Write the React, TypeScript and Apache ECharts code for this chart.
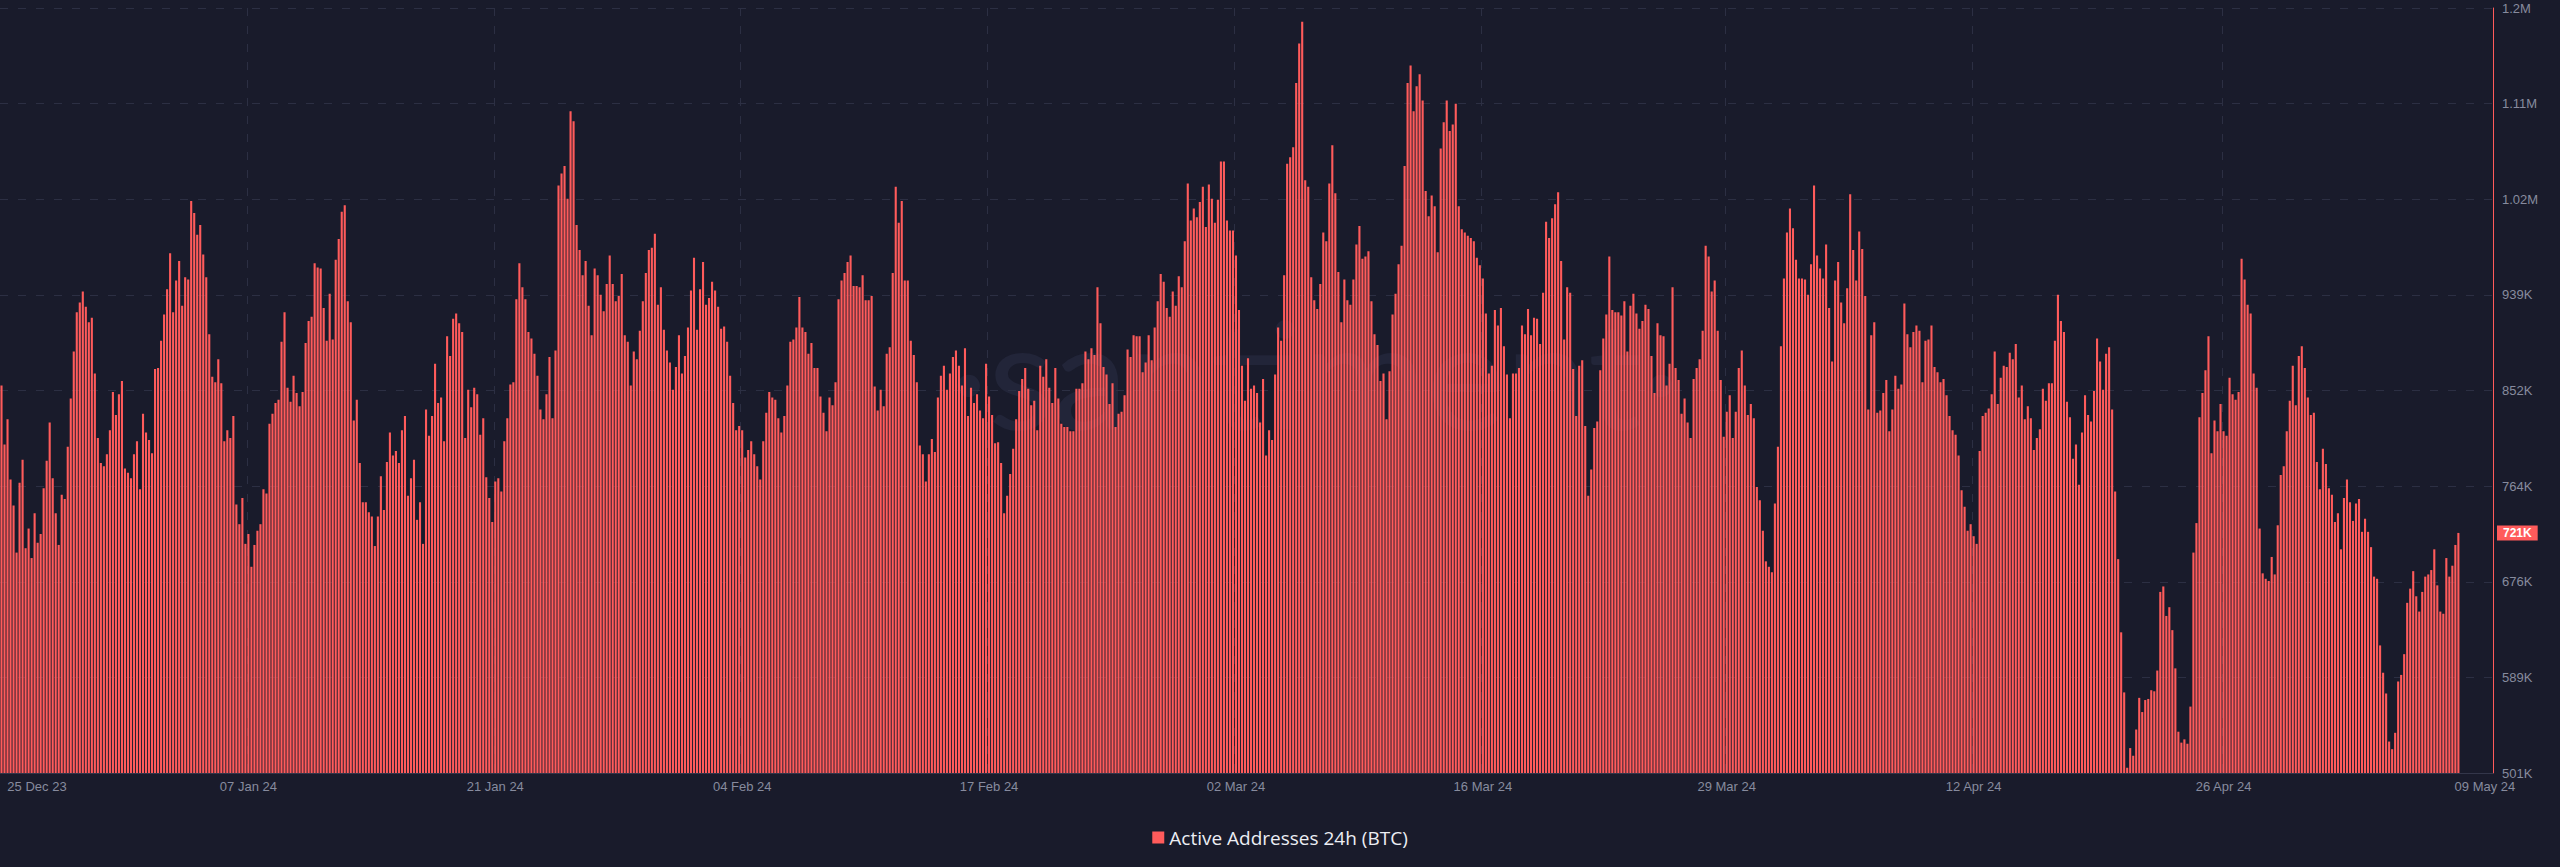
import React, { useEffect, useRef } from 'react';
import * as echarts from 'echarts';

// Active Addresses 24h (BTC), 4-hour samples, values in thousands
const aaDec25toJan07 = [
  856, 802, 825, 770, 746, 703, 767, 788, 707, 725,
  698, 739, 712, 720, 762, 787, 822, 771, 739, 710,
  756, 752, 800, 844, 887, 923, 932, 942, 928, 914,
  918, 867, 808, 785, 782, 793, 815, 850, 829, 848,
  860, 780, 776, 771, 793, 805, 761, 830, 813, 806,
  794, 871, 872, 897, 921, 944, 977, 923, 952,
  970, 929, 955, 953, 1025, 1014, 994, 1003, 976, 955,
  903, 864, 859, 880, 858, 805, 815, 808, 828, 747,
  729, 753, 711, 720, 690, 710, 723, 729, 761, 757,
  821, 830, 840, 843, 896, 923, 854, 841, 865, 849,
  837, 850, 895, 915, 919, 968, 964, 963, 927, 897,
  940, 898, 971, 990, 1015, 1021, 933, 914, 824, 843,
  785, 749, 749, 740, 736, 709, 736, 773, 742, 786,
  813, 792, 796, 785, 815, 828, 755,
];
const aaJan07toFeb08 = [
  771, 788, 733, 749, 711, 834, 810, 828, 876,
  840, 845, 805, 901, 883, 917, 922, 913, 905, 808,
  852, 836, 854, 848, 811, 826, 772, 753, 731, 768,
  771, 759, 805, 826, 857, 859, 935, 968, 946, 935,
  905, 899, 885, 865, 834, 825, 848, 882, 826, 888,
  1039, 1050, 1057, 1027, 1107, 1098, 1003, 980, 957, 970,
  929, 902, 963, 957, 939, 924, 949, 975, 949, 933,
  938, 958, 902, 896, 856, 887, 880, 906, 933, 959,
  980, 982, 995, 930, 946, 907, 888, 877, 852, 873,
  902, 867, 883, 909, 943, 973, 907, 944, 969, 930,
  936, 951, 943, 928, 908, 910, 896, 865, 840, 815,
  819, 815, 790, 797, 805, 793, 782, 770, 805, 831,
  850, 845, 843, 826, 813, 828, 856, 896, 898, 909,
  937, 909, 905, 885, 895, 872, 872,
];
const aaFeb08toMar03 = [
  846, 831, 814, 845, 838, 859, 935, 952, 959,
  969, 975, 947, 947, 946, 957, 934, 934, 938, 855,
  833, 852, 837, 885, 891, 959, 1038, 1005, 1025, 952,
  952, 897, 884, 859, 801, 793, 768, 793, 807, 795,
  845, 865, 874, 852, 867, 882, 888, 874, 856, 890,
  828, 854, 840, 848, 833, 826, 876, 846, 829, 803,
  804, 785, 739, 755, 775, 798, 825, 851, 862, 872,
  853, 838, 842, 815, 874, 864, 880, 854, 840, 872,
  844, 821, 818, 818, 814, 814, 853, 853, 858, 887,
  880, 890, 884, 946, 913, 873, 866, 839, 858, 818,
  830, 832, 847, 889, 882, 902, 901, 901, 868, 877,
  902, 879, 909, 933, 958, 951, 927, 919, 942, 929,
  956, 946, 988, 1041, 1007, 1018, 1010, 1024, 1038, 1001,
  1040, 1027, 1005, 1026, 1061, 1061, 1007,
];
const aaMar03toMar26 = [
  998, 998, 975, 925, 874, 842, 881, 853, 856, 849,
  822, 862, 792, 815, 806, 866, 909, 897, 957, 1059,
  1065, 1074, 1133, 1169, 1189, 1044, 1038, 955, 934, 926,
  949, 996, 988, 1041, 1076, 1032, 960, 914, 953, 934,
  930, 953, 985, 1002, 972, 974, 979, 933, 903, 893,
  860, 867, 825, 869, 921, 940, 967, 984, 1057, 1133,
  1149, 1107, 1130, 1141, 1117, 1034, 1011, 1030, 1020, 978,
  1073, 1097, 1117, 1089, 1095, 1114, 1020, 999, 996, 993,
  991, 988, 973, 966, 954, 922, 867, 874, 925,
  911, 927, 892, 866, 826, 867, 867, 872, 911, 903,
  926, 902, 918, 917, 894, 941, 1006, 991, 1009, 1022,
  1033, 970, 898, 946, 941, 871, 828, 874, 879, 819,
  755, 779, 817, 823, 870, 899, 921, 974, 925, 923,
  923, 920, 933, 887, 929, 940, 922,
];
const aaMar26toApr17 = [
  908, 915, 930, 926, 883, 849, 913, 902, 901, 856,
  876, 946, 872, 861, 830, 844, 822, 808, 862, 872,
  880, 906, 984, 974, 942, 952, 906, 861, 809, 832,
  847, 808, 832, 872, 888, 856, 829, 839, 826, 763,
  751, 723, 695, 690, 685, 748, 800, 892, 954, 996,
  1018, 1000, 971, 954, 954, 953, 939, 967, 1039, 975,
  963, 954, 985, 927, 878, 952, 969, 932, 913, 945,
  1031, 980, 952, 997, 981, 938, 834, 902, 914, 831,
  833, 849, 861, 814, 834, 865, 853, 857, 931, 903,
  891, 905, 911, 906, 859, 897, 898, 911, 873, 868,
  859, 862, 847, 828, 815, 811, 792, 760, 745, 723,
  729, 718, 711, 796, 828, 831, 835, 848, 887, 839,
  863, 874, 873, 886, 880, 894, 845, 856, 825, 837,
  826, 797, 808, 816, 853, 842, 858,
];
const aaApr17toMay09 = [
  858, 897, 939, 915, 905, 841, 827, 789, 802,
  765, 813, 847, 829, 823, 851, 899, 878, 852, 885,
  891, 834, 759, 697, 630, 575, 506, 524, 517, 541,
  570, 557, 568, 569, 577, 576, 595, 667, 672, 645,
  653, 632, 597, 539, 529, 532, 528, 562, 703, 730,
  827, 849, 870, 901, 794, 824, 814, 839, 814, 810,
  863, 848, 843, 850, 972, 953, 930, 922, 867, 854,
  725, 684, 679, 677, 699, 683, 728, 774, 782, 814,
  842, 874, 838, 883, 892, 872, 845, 829, 831, 786,
  761, 798, 784, 762, 756, 731, 739, 706, 753, 770,
  749, 732, 748, 752, 722, 734, 722, 708, 681, 679,
  618, 593, 574, 530, 523, 538, 585, 591, 610, 657,
  670, 686, 663, 649, 667, 681, 683, 687, 706, 673,
  649, 647, 698, 681, 691, 710, 721,
];

const activeAddressesK = [
  ...aaDec25toJan07,
  ...aaJan07toFeb08,
  ...aaFeb08toMar03,
  ...aaMar03toMar26,
  ...aaMar26toApr17,
  ...aaApr17toMay09,
];

// 4-hour time slots (categories), starting 25 Dec 2023 04:00 UTC
const firstSlot = Date.UTC(2023, 11, 25, 4);
const slotMs = 4 * 3600 * 1000;
const slotCount = 828;
const categories: string[] = Array.from({ length: slotCount }, (_, i) => String(firstSlot + i * slotMs));

const xTickIndices = [0, 82, 164, 246, 328, 410, 492, 573, 655, 738, 819];
const xTickLabels = ['25 Dec 23', '07 Jan 24', '21 Jan 24', '04 Feb 24', '17 Feb 24', '02 Mar 24', '16 Mar 24', '29 Mar 24', '12 Apr 24', '26 Apr 24', '09 May 24'];
const xGridIndices = xTickIndices.slice(1, -1);

const yTickValues = [501.2, 588.75, 676.3, 763.85, 851.4, 938.95, 1026.5, 1114.05, 1201.6];
const yTickLabels = ['501K', '589K', '676K', '764K', '852K', '939K', '1.02M', '1.11M', '1.2M'];

const seriesName = 'Active Addresses 24h (BTC)';
const RED = '#ff5b5b';
const BG = '#191b2b';
const LABEL_GREY = '#878b9e';
const GRID_COLOR = '#2c2f43';
const AXIS_FONT = '"Liberation Sans", Arial, sans-serif';

export default function App() {
  const ref = useRef<HTMLDivElement>(null);

  useEffect(() => {
    if (!ref.current) return;
    const chart = echarts.init(ref.current, null, { renderer: 'svg' });
    const lastValue = activeAddressesK[activeAddressesK.length - 1];

    const option: any = {
      animation: false,
      backgroundColor: BG,
      grid: { left: 0, right: 67, top: 8, bottom: 94, containLabel: false },
      legend: {
        data: [{ name: seriesName, icon: 'rect' }],
        left: 'center',
        top: 823,
        itemWidth: 12,
        itemHeight: 12,
        itemGap: 10,
        textStyle: { color: '#eceef4', fontSize: 19, fontFamily: '"Open Sans", sans-serif' },
      },
      graphic: [
        {
          type: 'text',
          x: 1315,
          y: 372,
          silent: true,
          z: 0,
          zlevel: 0,
          style: {
            text: '·santiment·',
            align: 'center',
            verticalAlign: 'middle',
            fontSize: 150,
            fontFamily: 'Lato, sans-serif',
            fill: '#222539',
          },
        },
      ],
      xAxis: {
        type: 'category',
        data: categories,
        boundaryGap: true,
        axisLine: { show: true, lineStyle: { color: '#33364a', width: 1 } },
        axisTick: { show: false },
        axisLabel: {
          interval: (index: number) => xTickIndices.includes(index),
          color: LABEL_GREY,
          fontSize: 13,
          fontFamily: AXIS_FONT,
          margin: 7,
          formatter: (value: string) => {
            const idx = categories.indexOf(value);
            const k = xTickIndices.indexOf(idx);
            if (k < 0) return '';
            if (k === 0) return `{first|${xTickLabels[k]}}`;
            if (k === xTickIndices.length - 1) return `{last|${xTickLabels[k]}}`;
            return xTickLabels[k];
          },
          rich: {
            first: { padding: [0, 0, 0, 71], color: LABEL_GREY, fontSize: 13, fontFamily: AXIS_FONT },
            last: { padding: [0, 0, 0, 35], color: LABEL_GREY, fontSize: 13, fontFamily: AXIS_FONT },
          },
        },
        splitLine: {
          show: true,
          interval: (index: number) => xGridIndices.includes(index),
          lineStyle: { color: GRID_COLOR, type: [8, 10], width: 1 },
        },
      },
      yAxis: {
        type: 'value',
        position: 'right',
        min: yTickValues[0],
        max: yTickValues[yTickValues.length - 1],
        axisLine: { show: true, lineStyle: { color: RED, width: 1 } },
        axisTick: { show: false, customValues: yTickValues },
        axisLabel: {
          customValues: yTickValues,
          color: LABEL_GREY,
          fontSize: 13,
          fontFamily: AXIS_FONT,
          margin: 9,
          formatter: (v: number) => {
            let best = 0;
            yTickValues.forEach((t, i) => {
              if (Math.abs(t - v) < Math.abs(yTickValues[best] - v)) best = i;
            });
            return yTickLabels[best];
          },
        },
        splitLine: {
          show: true,
          lineStyle: { color: GRID_COLOR, type: [8, 10], width: 1 },
        },
      },
      series: [
        {
          name: seriesName,
          type: 'bar',
          z: 2,
          data: activeAddressesK,
          barCategoryGap: '30%',
          itemStyle: { color: RED },
          markLine: {
            silent: true,
            symbol: ['none', 'none'],
            data: [{ yAxis: lastValue }],
            lineStyle: { color: 'rgba(0,0,0,0)', width: 1, type: 'solid' },
            label: {
              show: true,
              position: 'end',
              distance: 4,
              formatter: () => `${Math.round(lastValue)}K`,
              backgroundColor: RED,
              color: '#ffffff',
              fontWeight: 'bold',
              fontSize: 12,
              fontFamily: AXIS_FONT,
              padding: [2, 6, 1, 6],
            },
          },
        },
      ],
    };

    chart.setOption(option);
    return () => chart.dispose();
  }, []);

  return (
    <div
      ref={ref}
      style={{ position: 'absolute', left: 0, top: 0, width: 2560, height: 867 }}
    />
  );
}
